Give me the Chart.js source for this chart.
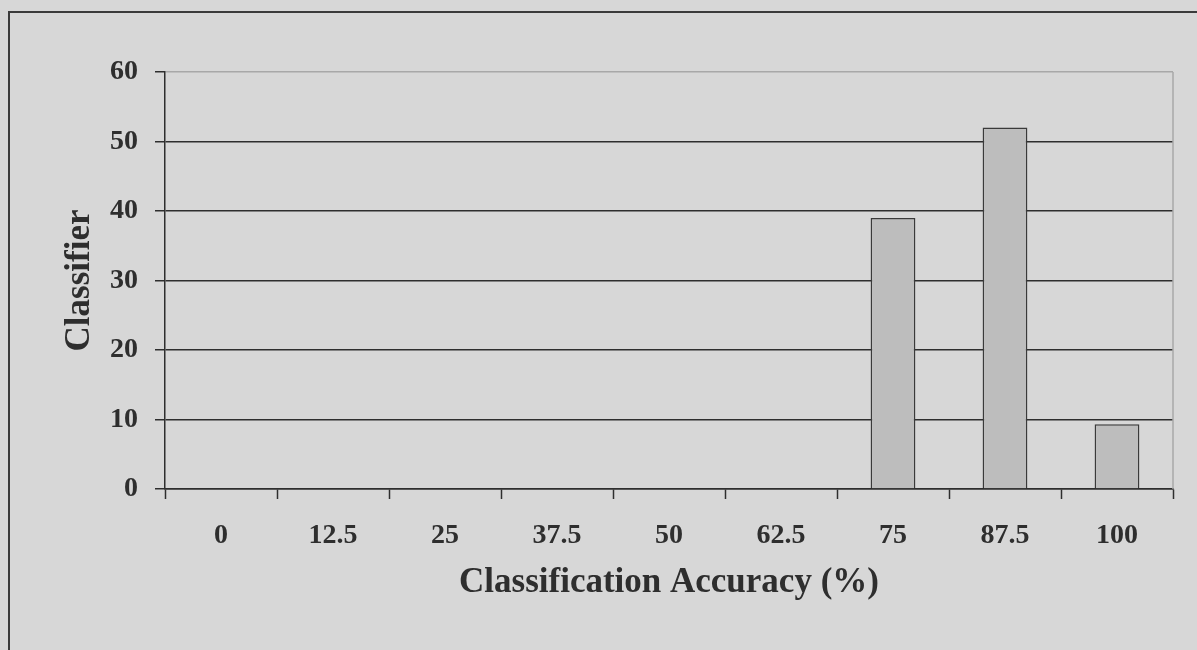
<!DOCTYPE html>
<html>
<head>
<meta charset="utf-8">
<script src="https://cdn.jsdelivr.net/npm/chart.js@4"></script>
<style>
  html, body { margin: 0; padding: 0; background: #d7d7d7; overflow: hidden; }
  #frame { position: absolute; left: 8px; top: 11px; width: 1400px; height: 1000px; border: 2px solid #3a3a3a; }
  #wrap { position: absolute; left: 0; top: 0; width: 1197px; height: 650px; }
</style>
</head>
<body>
<div id="frame"></div>
<div id="wrap"><canvas id="c" width="1197" height="650"></canvas></div>
<script>
const categories = ['0', '12.5', '25', '37.5', '50', '62.5', '75', '87.5', '100'];
const classifierCounts = [0, 0, 0, 0, 0, 0, 39, 52, 9.3];
const xTitle = 'Classification Accuracy (%)';
const yTitle = 'Classifier';
const yMin = 0, yMax = 60, yStep = 10;

const FONT = '"Liberation Serif", "Times New Roman", serif';
const DARK = '#2e2e2e';

const plotBorder = {
  id: 'plotBorder',
  afterDatasetsDraw(chart) {
    const {ctx, chartArea: a} = chart;
    ctx.save();
    ctx.strokeStyle = '#a8a8a8';
    ctx.lineWidth = 1.5;
    ctx.beginPath();
    ctx.moveTo(a.right, a.top);
    ctx.lineTo(a.right, a.bottom);
    ctx.stroke();
    ctx.restore();
  }
};

new Chart(document.getElementById('c'), {
  type: 'bar',
  data: {
    labels: categories,
    datasets: [{
      data: classifierCounts,
      backgroundColor: '#bdbdbd',
      borderColor: '#3a3a3a',
      borderWidth: 1.5,
      barPercentage: 0.4,
      categoryPercentage: 1.0
    }]
  },
  options: {
    responsive: false,
    animation: false,
    devicePixelRatio: 1,
    layout: { padding: { top: 72, right: 24, left: 0, bottom: 0 } },
    plugins: { legend: { display: false }, tooltip: { enabled: false } },
    scales: {
      x: {
        offset: true,
        grid: { offset: true, drawOnChartArea: false, drawTicks: true, tickLength: 10, tickColor: DARK, tickWidth: 1.5 },
        border: { color: DARK, width: 1.5 },
        ticks: { color: DARK, font: { family: FONT, size: 28, weight: 'bold' }, padding: 20, maxRotation: 0 },
        title: { display: true, text: xTitle, color: DARK, font: { family: FONT, size: 35, weight: 'bold' }, padding: { top: 0, bottom: 46 } },
        afterFit(scale) { scale.height = 161; }
      },
      y: {
        min: yMin, max: yMax,
        grid: {
          color: ctx => (ctx.tick && ctx.tick.value === yMax) ? '#a8a8a8' : DARK,
          lineWidth: 1.5, tickLength: 10, tickColor: DARK, tickWidth: 1.5
        },
        border: { color: DARK, width: 1.5 },
        ticks: { stepSize: yStep, color: DARK, font: { family: FONT, size: 28, weight: 'bold' }, padding: 17 },
        title: { display: true, text: yTitle, color: DARK, font: { family: FONT, size: 35, weight: 'bold' }, padding: { top: 59, bottom: 0 } },
        afterFit(scale) { scale.width = 165; }
      }
    }
  },
  plugins: [plotBorder]
});
</script>
</body>
</html>
